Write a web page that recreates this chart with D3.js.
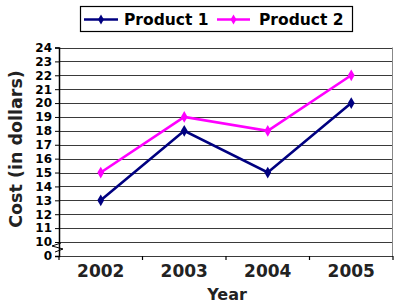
<!DOCTYPE html>
<html><head><meta charset="utf-8">
<script src="https://cdn.jsdelivr.net/npm/d3@7"></script>
<style>body{margin:0;background:#fff}svg{display:block}</style>
</head><body>
<svg id="c" width="394" height="306"></svg>
<script>
const years = ["2002","2003","2004","2005"];
const product1 = [13,18,15,20];
const product2 = [15,19,18,22];
const yTicks = [0,10,11,12,13,14,15,16,17,18,19,20,21,22,23,24];
const seriesNames = ["Product 1","Product 2"];
const seriesColors = ["#000080","#ff00ff"];

const svg = d3.select("#c");
const font = "DejaVu Sans, Verdana, sans-serif";
const left = 59, right = 393;
const x = d3.scaleBand().domain(years).range([left, right]);
const y = d3.scaleLinear().domain([0,10,24]).range([256,242,47.5]);

// gridlines
svg.append("g").selectAll("line").data(yTicks).join("line")
  .attr("x1", left).attr("x2", right)
  .attr("y1", d=>Math.round(y(d))+0.5).attr("y2", d=>Math.round(y(d))+0.5)
  .attr("stroke", "#3a3a3a").attr("stroke-width", 1.2);
// right border
svg.append("line").attr("x1", right-0.5).attr("x2", right-0.5)
  .attr("y1", y(24)).attr("y2", y(0)).attr("stroke","#888").attr("stroke-width",1);

// y axis
const yAxis = svg.append("g").attr("transform", `translate(${left},0)`)
  .call(d3.axisLeft(y).tickValues(yTicks).tickSize(4).tickPadding(3));
yAxis.select(".domain").attr("stroke","#000").attr("stroke-width",1.5);
yAxis.selectAll("line").attr("stroke","#000");
yAxis.selectAll("text").attr("font-family", font).attr("font-weight","bold")
  .attr("font-size", 12).attr("fill","#000");

// x axis
const xAxis = svg.append("g").attr("transform", `translate(0,${y(0)})`)
  .call(d3.axisBottom(x).tickSize(0).tickPadding(9));
xAxis.select(".domain").remove();
xAxis.selectAll("text").attr("font-family", font).attr("font-weight","bold")
  .attr("font-size", 17).attr("fill","#222");
// x tick marks at band boundaries
const bounds = years.map(d=>x(d)).concat([right]);
svg.append("g").selectAll("line").data(bounds).join("line")
  .attr("x1", d=>d).attr("x2", d=>d).attr("y1", y(0)).attr("y2", y(0)+4)
  .attr("stroke","#000").attr("stroke-width",1.2);

// axis break
svg.append("path").attr("d","M61,243 L52,246 L63,249 L55,252")
  .attr("fill","none").attr("stroke","#000").attr("stroke-width",1);

// lines
const cx = d=>x(d)+x.bandwidth()/2;
[product1, product2].forEach((vals,i)=>{
  const pts = years.map((yr,j)=>[cx(yr), y(vals[j])]);
  svg.append("path").attr("d", d3.line()(pts))
    .attr("fill","none").attr("stroke", seriesColors[i]).attr("stroke-width",2.6);
  svg.append("g").selectAll("path").data(pts).join("path")
    .attr("transform", d=>`translate(${d[0]},${d[1]})`)
    .attr("d", d3.symbol().type(d3.symbolDiamond).size(40))
    .attr("fill", seriesColors[i]);
});

// axis titles
svg.append("text").attr("x", 227).attr("y", 300).attr("text-anchor","middle")
  .attr("font-family", font).attr("font-weight","bold").attr("font-size",16)
  .attr("fill","#222").text("Year");
svg.append("text").attr("transform","translate(22,149) rotate(-90)")
  .attr("text-anchor","middle").attr("font-family", font).attr("font-weight","bold")
  .attr("font-size",17.5).attr("fill","#222").text("Cost (in dollars)");

// legend
svg.append("rect").attr("x",80.5).attr("y",6.5).attr("width",272).attr("height",25)
  .attr("fill","#fff").attr("stroke","#000").attr("stroke-width",1.2);
const legX = [[84,118,124],[217,250,259]];
seriesNames.forEach((n,i)=>{
  const [a,b,t] = legX[i];
  svg.append("line").attr("x1",a).attr("x2",b).attr("y1",19.5).attr("y2",19.5)
    .attr("stroke",seriesColors[i]).attr("stroke-width",2.6);
  svg.append("path").attr("transform",`translate(${(a+b)/2},19.5)`)
    .attr("d", d3.symbol().type(d3.symbolDiamond).size(30)).attr("fill",seriesColors[i]);
  svg.append("text").attr("x",t).attr("y",25).attr("font-family",font)
    .attr("font-weight","bold").attr("font-size",15.5).attr("fill","#000").text(n);
});
</script>
</body></html>
